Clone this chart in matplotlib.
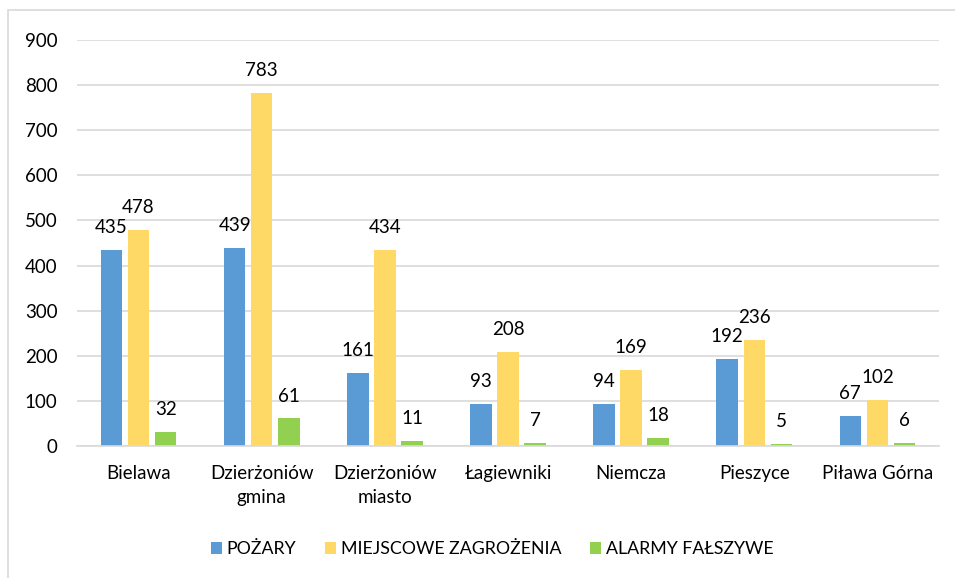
import matplotlib
matplotlib.use("Agg")
import matplotlib.pyplot as plt
from matplotlib.patches import Rectangle
import numpy as np

categories = ["Bielawa", "Dzierżoniów\ngmina", "Dzierżoniów\nmiasto", "Łagiewniki",
              "Niemcza", "Pieszyce", "Piława Górna"]
pozary = [435, 439, 161, 93, 94, 192, 67]
miejscowe = [478, 783, 434, 208, 169, 236, 102]
alarmy = [32, 61, 11, 7, 18, 5, 6]
series_names = ["POŻARY", "MIEJSCOWE ZAGROŻENIA", "ALARMY FAŁSZYWE"]
colors = ["#5B9BD5", "#FFD966", "#92D050"]
yticks = [0, 100, 200, 300, 400, 500, 600, 700, 800, 900]

plt.rcParams['font.family'] = ['Lato', 'DejaVu Sans']
fs = 13.5

fig = plt.figure(figsize=(9.55, 5.78), dpi=100)
# chart-area border (left/top visible)
fig.patches.append(Rectangle((8 / 955, -0.05), 1.2, (578 - 10) / 578 + 0.05,
                             transform=fig.transFigure, fill=False,
                             edgecolor="#D9D9D9", linewidth=1.2))

ax = fig.add_axes([77 / 955, 1 - 446 / 578, (939 - 77) / 955, (446 - 40) / 578])

x = np.arange(len(categories))
w = 0.175
step = 0.22
for i, (vals, name, col) in enumerate(zip([pozary, miejscowe, alarmy], series_names, colors)):
    pos = x + (i - 1) * step
    bars = ax.bar(pos, vals, width=w, color=col, label=name, zorder=3)
    for b, v in zip(bars, vals):
        ax.annotate(str(v), (b.get_x() + b.get_width() / 2, v), xytext=(0, 10),
                    textcoords="offset points", ha="center", va="bottom",
                    fontsize=fs, color="#000000")

ax.set_xlim(-0.5, len(categories) - 0.5)
ax.set_ylim(0, 900)
ax.set_yticks(yticks)
ax.set_yticklabels([str(t) for t in yticks], fontsize=fs)
ax.yaxis.grid(True, color="#D9D9D9", linewidth=1.2, zorder=0)
ax.set_xticks(x)
ax.set_xticklabels(categories, fontsize=fs, linespacing=1.45)
ax.tick_params(axis="x", length=0, pad=14)
ax.tick_params(axis="y", length=0, pad=14)
for s in ["top", "right", "left"]:
    ax.spines[s].set_visible(False)
ax.spines["bottom"].set_color("#D9D9D9")
ax.spines["bottom"].set_linewidth(1.2)
ax.spines["bottom"].set_zorder(4)

ax.legend(loc="center", bbox_to_anchor=(0.515, 1 - 549 / 578), bbox_transform=fig.transFigure,
          ncol=3, frameon=False, fontsize=12.8, handlelength=0.65, handleheight=0.65,
          handletextpad=0.25, columnspacing=1.6)

fig.savefig("out.png", dpi=100)
